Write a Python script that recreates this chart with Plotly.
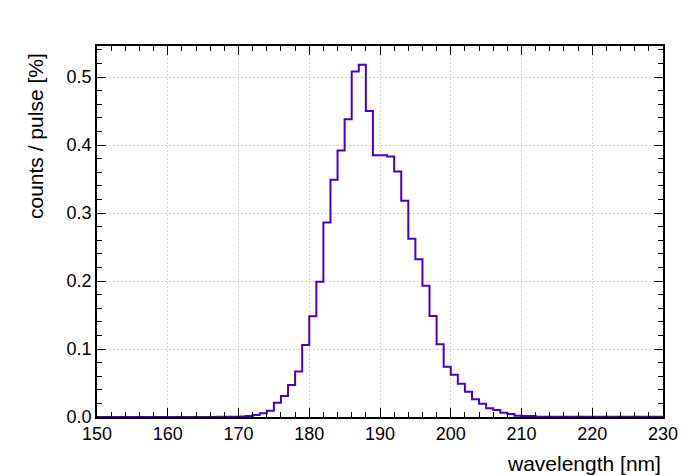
import plotly.graph_objects as go

# Histogram: bin left edges 150..229 (1 nm bins), values in counts/pulse [%]
bin_edges = list(range(150, 231))
values = (
    [0.0] * 17 +                      # 150-166
    [0.0002, 0.0003, 0.0005, 0.0008,  # 167-170
     0.0015, 0.003, 0.0054, 0.0093,   # 171-174
     0.021, 0.031, 0.047, 0.067,      # 175-178
     0.106, 0.148, 0.199, 0.286,      # 179-182
     0.349, 0.392, 0.438, 0.508,      # 183-186
     0.518, 0.450, 0.385, 0.385,      # 187-190
     0.383, 0.361, 0.318, 0.262,      # 191-194
     0.232, 0.193, 0.1485, 0.107,     # 195-198
     0.074, 0.062, 0.049, 0.037,      # 199-202
     0.026, 0.0196, 0.013, 0.0103,    # 203-206
     0.0064, 0.0044, 0.0018, 0.0016,  # 207-210
     0.0015, 0.0004, 0.0004, 0.0004,  # 211-214
     0.0003] +                        # 215
    [0.0002] * 14                     # 216-229
)
x_ticks = [150, 160, 170, 180, 190, 200, 210, 220, 230]
y_ticks = [0.0, 0.1, 0.2, 0.3, 0.4, 0.5]
x_title = "wavelength [nm]"
y_title = "counts / pulse [%]"

xs = bin_edges
ys = values + [values[-1]]

fig = go.Figure()
fig.add_trace(go.Scatter(
    x=xs, y=ys, mode="lines", line_shape="hv",
    line=dict(color="#4800d0", width=2), showlegend=False,
))

font_family = "Liberation Sans, Arial, Helvetica, sans-serif"
axis_common = dict(
    showline=True, linecolor="black", linewidth=1.5, mirror="allticks",
    ticks="inside", ticklen=9, tickwidth=1.2, tickcolor="black",
    showgrid=True, gridcolor="#d4d4d4", griddash="2px,2px", gridwidth=1,
    zeroline=False,
    tickfont=dict(family=font_family, size=18, color="black"),
)

fig.update_xaxes(
    range=[150, 230], tickmode="array", tickvals=x_ticks,
    ticktext=[str(v) for v in x_ticks],
    minor=dict(ticks="inside", ticklen=5, dtick=2, tickcolor="black", showgrid=False),
    **axis_common,
)
fig.update_yaxes(
    range=[0, 0.5456], tickmode="array", tickvals=y_ticks,
    ticktext=[f"{v:.1f}" for v in y_ticks],
    minor=dict(ticks="inside", ticklen=5, dtick=0.02, tick0=0, tickcolor="black", showgrid=False),
    **axis_common,
)

fig.add_annotation(
    text=x_title, xref="paper", yref="paper", x=1.0, y=-0.124,
    xanchor="right", yanchor="middle", showarrow=False,
    font=dict(family=font_family, size=21, color="black"),
)
fig.add_annotation(
    text=y_title, xref="paper", yref="paper", x=-0.1095, y=1.0, yshift=-5,
    xanchor="center", yanchor="top", textangle=-90, showarrow=False,
    font=dict(family=font_family, size=21, color="black"),
)

# page body has an 8px margin; size/margins chosen so the plot area lands at
# x 97..663, y 46..417 in the 698x475 window
fig.update_layout(
    width=690, height=467,
    margin=dict(l=89, r=35, t=38, b=58),
    plot_bgcolor="white", paper_bgcolor="white",
    font=dict(family=font_family, color="black"),
)

fig.write_html("out.html")
